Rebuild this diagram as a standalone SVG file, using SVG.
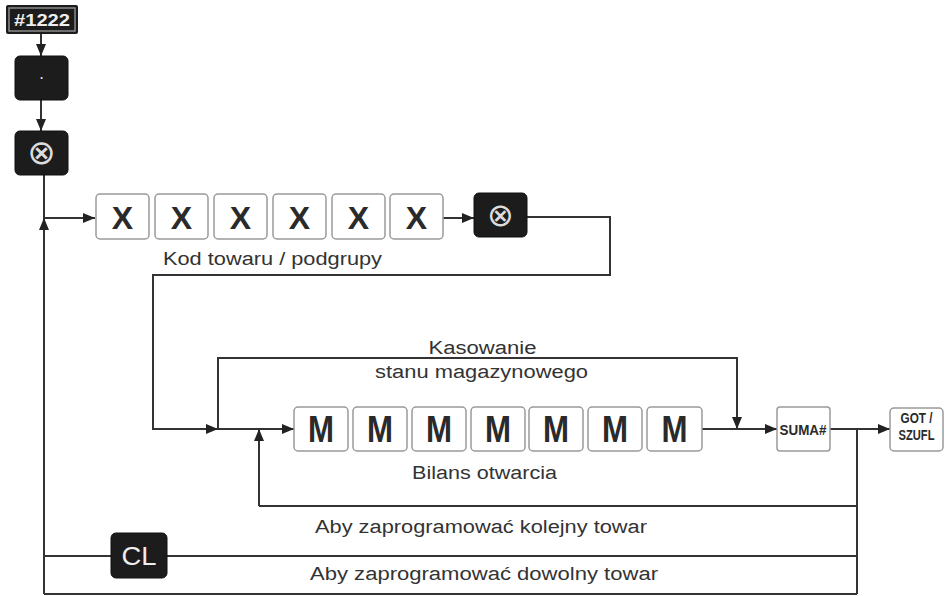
<svg xmlns="http://www.w3.org/2000/svg" width="948" height="596" viewBox="0 0 948 596">
<style>
.key{fill:#fff;stroke:#9a9a9a;stroke-width:1.5}
.dk{fill:#1c1c1c;stroke:#111;stroke-width:1}
.ln{fill:none;stroke:#333;stroke-width:2}
.kx{font-family:"Liberation Sans",Arial,sans-serif;font-weight:bold;fill:#2a2a2a;text-anchor:middle}
.lbl{font-family:"Liberation Sans",Arial,sans-serif;font-size:18px;fill:#333;text-anchor:middle}
.wt{font-family:"Liberation Sans",Arial,sans-serif;fill:#eeeeee;text-anchor:middle}
.sym{font-family:"DejaVu Sans",sans-serif;fill:#dcdcdc;text-anchor:middle}
</style>
<defs>
<marker id="ah" viewBox="0 0 12 10" refX="12" refY="5" markerWidth="12" markerHeight="10" orient="auto" markerUnits="userSpaceOnUse"><path d="M0,0 L12,5 L0,10 z" fill="#222"/></marker>
</defs>
<rect width="948" height="596" fill="#fff"/>
<g id="connectors">
<path class="ln" d="M41,34 V56" marker-end="url(#ah)"/>
<path class="ln" d="M41,100 V131" marker-end="url(#ah)"/>
<path class="ln" d="M44,175 V218 H95" marker-end="url(#ah)"/>
<path class="ln" d="M44,594 V218" marker-end="url(#ah)"/>
<path class="ln" d="M443,218 H474" marker-end="url(#ah)"/>
<path class="ln" d="M527,217 H610 V275 H153 V429 H218" marker-end="url(#ah)"/>
<path class="ln" d="M218,429 H294" marker-end="url(#ah)"/>
<path class="ln" d="M218,429 V358 H737 V429" marker-end="url(#ah)"/>
<path class="ln" d="M259,506 V429" marker-end="url(#ah)"/>
<path class="ln" d="M702,429 H777" marker-end="url(#ah)"/>
<path class="ln" d="M830,429 H890" marker-end="url(#ah)"/>
<path class="ln" d="M857,429 V594"/>
<path class="ln" d="M259,506 H857"/>
<path class="ln" d="M44,556 H857"/>
<path class="ln" d="M44,594 H857"/>
</g>
<g id="n1222"><rect x="6" y="5" width="72" height="29" rx="2" fill="#1c1c1c"/><rect x="9" y="8" width="66" height="23" fill="none" stroke="#8a8a8a" stroke-width="1.5"/><text class="wt" x="42" y="26" font-size="16" font-weight="bold" textLength="56" lengthAdjust="spacingAndGlyphs">#1222</text></g>
<g id="ndot"><rect class="dk" x="15" y="56" width="53" height="44" rx="5"/><text class="sym" x="41.5" y="84" font-size="16">·</text></g>
<g id="nx1"><rect class="dk" x="15" y="131" width="53" height="44" rx="5"/><text class="sym" x="41.5" y="164" font-size="34">⊗</text></g>
<g id="kx1"><rect class="key" x="96" y="194" width="53" height="45" rx="4"/><text class="kx" x="122.5" y="229" font-size="32">X</text></g>
<g id="kx2"><rect class="key" x="155" y="194" width="53" height="45" rx="4"/><text class="kx" x="181.5" y="229" font-size="32">X</text></g>
<g id="kx3"><rect class="key" x="214" y="194" width="53" height="45" rx="4"/><text class="kx" x="240.5" y="229" font-size="32">X</text></g>
<g id="kx4"><rect class="key" x="273" y="194" width="53" height="45" rx="4"/><text class="kx" x="299.5" y="229" font-size="32">X</text></g>
<g id="kx5"><rect class="key" x="332" y="194" width="53" height="45" rx="4"/><text class="kx" x="358.5" y="229" font-size="32">X</text></g>
<g id="kx6"><rect class="key" x="390" y="194" width="53" height="45" rx="4"/><text class="kx" x="416.5" y="229" font-size="32">X</text></g>
<g id="nx2"><rect class="dk" x="474" y="193" width="53" height="44" rx="5"/><text class="sym" x="500.5" y="226" font-size="32">⊗</text></g>
<g id="km1"><rect class="key" x="294" y="407" width="54" height="44" rx="4"/><text class="kx" x="321" y="442" font-size="37" textLength="26" lengthAdjust="spacingAndGlyphs">M</text></g>
<g id="km2"><rect class="key" x="353" y="407" width="54" height="44" rx="4"/><text class="kx" x="380" y="442" font-size="37" textLength="26" lengthAdjust="spacingAndGlyphs">M</text></g>
<g id="km3"><rect class="key" x="412" y="407" width="54" height="44" rx="4"/><text class="kx" x="439" y="442" font-size="37" textLength="26" lengthAdjust="spacingAndGlyphs">M</text></g>
<g id="km4"><rect class="key" x="471" y="407" width="54" height="44" rx="4"/><text class="kx" x="498" y="442" font-size="37" textLength="26" lengthAdjust="spacingAndGlyphs">M</text></g>
<g id="km5"><rect class="key" x="529" y="407" width="54" height="44" rx="4"/><text class="kx" x="556" y="442" font-size="37" textLength="26" lengthAdjust="spacingAndGlyphs">M</text></g>
<g id="km6"><rect class="key" x="588" y="407" width="54" height="44" rx="4"/><text class="kx" x="615" y="442" font-size="37" textLength="26" lengthAdjust="spacingAndGlyphs">M</text></g>
<g id="km7"><rect class="key" x="647" y="407" width="55" height="44" rx="4"/><text class="kx" x="674.5" y="442" font-size="37" textLength="26" lengthAdjust="spacingAndGlyphs">M</text></g>
<g id="nsuma"><rect class="key" x="777" y="407" width="53" height="44" rx="3"/><text class="kx" x="803" y="435" font-size="15" textLength="47" lengthAdjust="spacingAndGlyphs">SUMA#</text></g>
<g id="ngot"><rect class="key" x="890" y="408" width="53" height="43" rx="4"/><text class="kx" x="916.5" y="423" font-size="14" textLength="32" lengthAdjust="spacingAndGlyphs">GOT /</text><text class="kx" x="916.5" y="440" font-size="14" textLength="36" lengthAdjust="spacingAndGlyphs">SZUFL</text></g>
<g id="ncl"><rect class="dk" x="111" y="533" width="56" height="45" rx="5"/><text class="wt" x="139" y="565" font-size="26" textLength="35" lengthAdjust="spacingAndGlyphs">CL</text></g>
<g id="labels">
<text class="lbl" x="272.5" y="265" font-size="19" textLength="219" lengthAdjust="spacingAndGlyphs">Kod towaru / podgrupy</text>
<text class="lbl" x="482.5" y="354" textLength="108" lengthAdjust="spacingAndGlyphs">Kasowanie</text>
<text class="lbl" x="481.5" y="378" textLength="213" lengthAdjust="spacingAndGlyphs">stanu magazynowego</text>
<text class="lbl" x="484.5" y="479" textLength="145" lengthAdjust="spacingAndGlyphs">Bilans otwarcia</text>
<text class="lbl" x="481" y="533" textLength="332" lengthAdjust="spacingAndGlyphs">Aby zaprogramować kolejny towar</text>
<text class="lbl" x="484" y="580" textLength="348" lengthAdjust="spacingAndGlyphs">Aby zaprogramować dowolny towar</text>
</g>
</svg>
